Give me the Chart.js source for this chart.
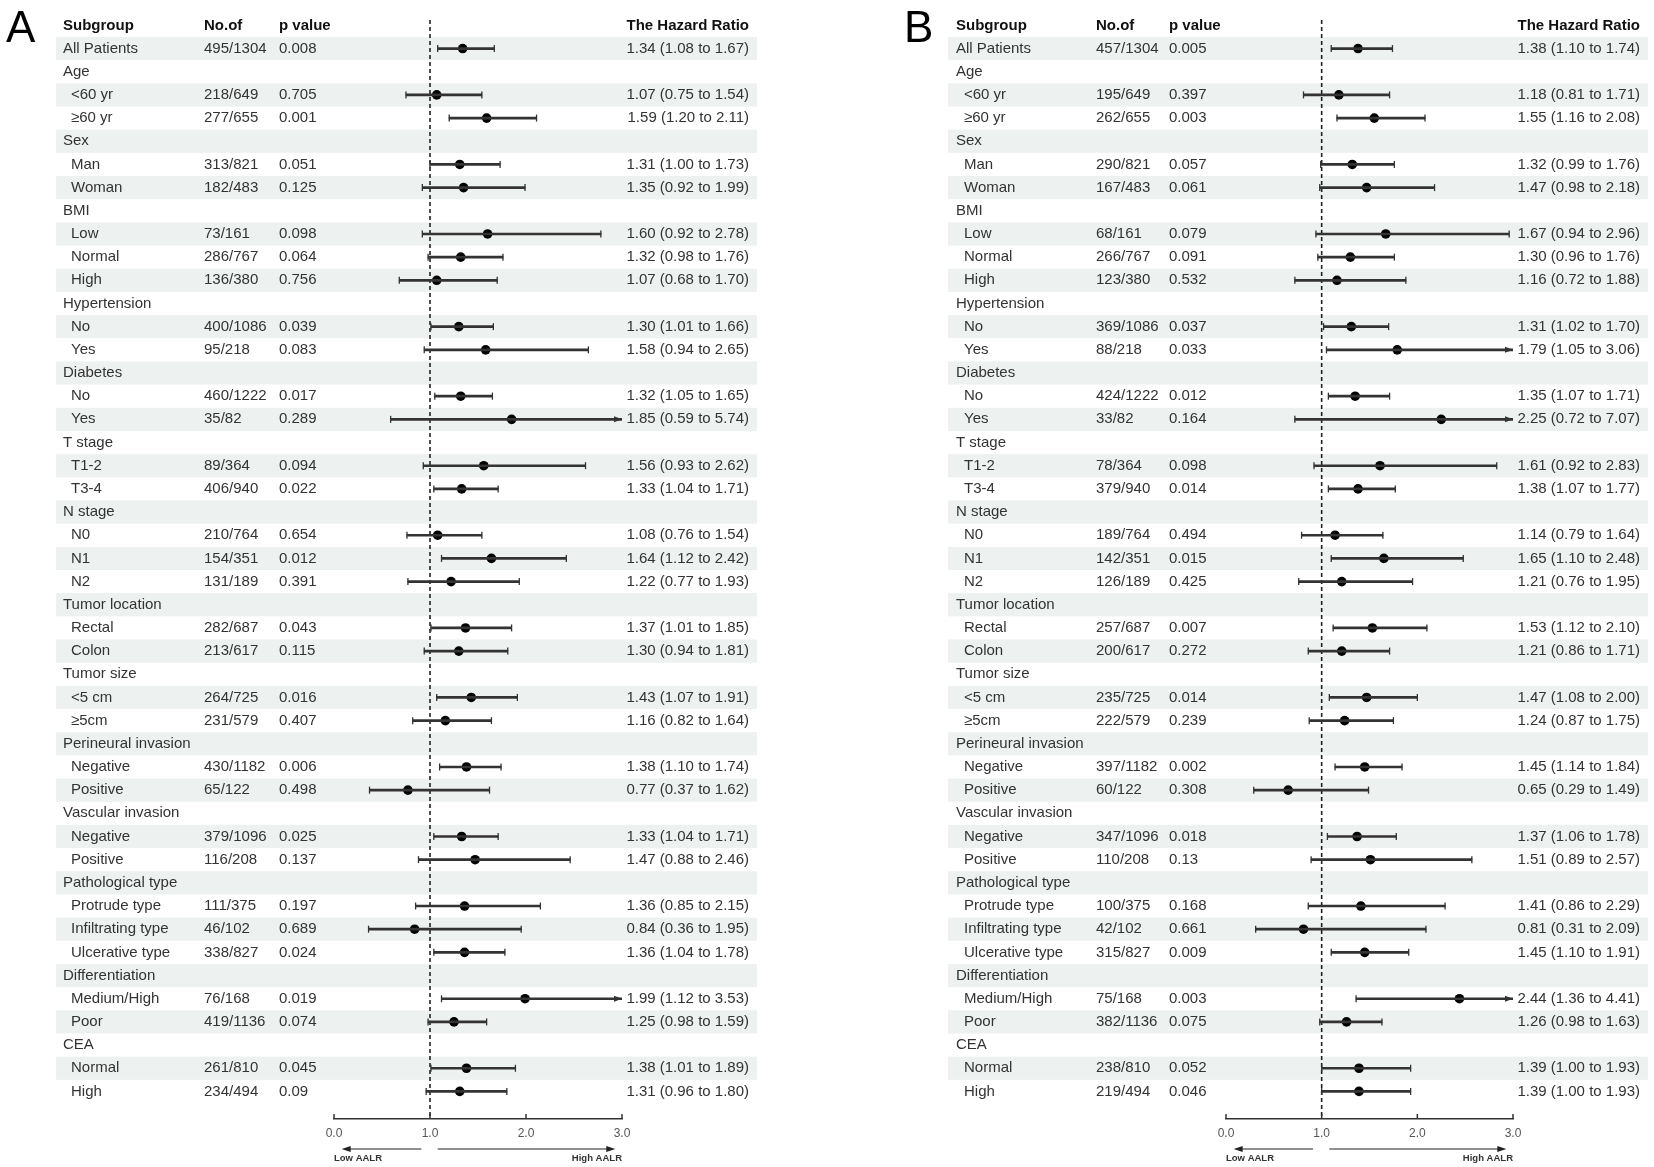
<!DOCTYPE html>
<html>
<head>
<meta charset="utf-8">
<script src="https://cdn.jsdelivr.net/npm/chart.js@4.4.0/dist/chart.umd.min.js"></script>
<style>
  body { margin: 0; background: #fff; width: 1654px; height: 1167px; overflow: hidden; position: relative; }
  .panel { position: absolute; top: 0; width: 827px; height: 1167px; }
</style>
</head>
<body>
<div class="panel" style="left:0"><canvas id="chartA"></canvas></div>
<div class="panel" style="left:827px"><canvas id="chartB"></canvas></div>
<script>
// rows of the table (group headers have no values)
const subgroups = ['All Patients', 'Age', '<60 yr', '≥60 yr', 'Sex', 'Man', 'Woman', 'BMI', 'Low', 'Normal', 'High',
    'Hypertension', 'No', 'Yes', 'Diabetes', 'No', 'Yes', 'T stage', 'T1-2', 'T3-4', 'N stage', 'N0', 'N1', 'N2',
    'Tumor location', 'Rectal', 'Colon', 'Tumor size', '<5 cm', '≥5cm', 'Perineural invasion', 'Negative', 'Positive',
    'Vascular invasion', 'Negative', 'Positive', 'Pathological type', 'Protrude type', 'Infiltrating type', 'Ulcerative type',
    'Differentiation', 'Medium/High', 'Poor', 'CEA', 'Normal', 'High'];
const headers = ['Subgroup', 'No.of', 'p value', 'The Hazard Ratio'];
const xTicks = [0, 1, 2, 3];
const refValue = 1;
const directionLabels = ['Low AALR', 'High AALR'];

// panel A
const eventsA = ['495/1304', null, '218/649', '277/655', null, '313/821', '182/483', null, '73/161', '286/767', '136/380',
    null, '400/1086', '95/218', null, '460/1222', '35/82', null, '89/364', '406/940', null, '210/764', '154/351', '131/189',
    null, '282/687', '213/617', null, '264/725', '231/579', null, '430/1182', '65/122', null, '379/1096', '116/208',
    null, '111/375', '46/102', '338/827', null, '76/168', '419/1136', null, '261/810', '234/494'];
const pValuesA = ['0.008', null, '0.705', '0.001', null, '0.051', '0.125', null, '0.098', '0.064', '0.756',
    null, '0.039', '0.083', null, '0.017', '0.289', null, '0.094', '0.022', null, '0.654', '0.012', '0.391',
    null, '0.043', '0.115', null, '0.016', '0.407', null, '0.006', '0.498', null, '0.025', '0.137',
    null, '0.197', '0.689', '0.024', null, '0.019', '0.074', null, '0.045', '0.09'];
const hrA = [1.34, null, 1.07, 1.59, null, 1.31, 1.35, null, 1.60, 1.32, 1.07, null, 1.30, 1.58, null, 1.32, 1.85,
    null, 1.56, 1.33, null, 1.08, 1.64, 1.22, null, 1.37, 1.30, null, 1.43, 1.16, null, 1.38, 0.77, null, 1.33, 1.47,
    null, 1.36, 0.84, 1.36, null, 1.99, 1.25, null, 1.38, 1.31];
const lowerA = [1.08, null, 0.75, 1.20, null, 1.00, 0.92, null, 0.92, 0.98, 0.68, null, 1.01, 0.94, null, 1.05, 0.59,
    null, 0.93, 1.04, null, 0.76, 1.12, 0.77, null, 1.01, 0.94, null, 1.07, 0.82, null, 1.10, 0.37, null, 1.04, 0.88,
    null, 0.85, 0.36, 1.04, null, 1.12, 0.98, null, 1.01, 0.96];
const upperA = [1.67, null, 1.54, 2.11, null, 1.73, 1.99, null, 2.78, 1.76, 1.70, null, 1.66, 2.65, null, 1.65, 5.74,
    null, 2.62, 1.71, null, 1.54, 2.42, 1.93, null, 1.85, 1.81, null, 1.91, 1.64, null, 1.74, 1.62, null, 1.71, 2.46,
    null, 2.15, 1.95, 1.78, null, 3.53, 1.59, null, 1.89, 1.80];

// panel B
const eventsB = ['457/1304', null, '195/649', '262/655', null, '290/821', '167/483', null, '68/161', '266/767', '123/380',
    null, '369/1086', '88/218', null, '424/1222', '33/82', null, '78/364', '379/940', null, '189/764', '142/351', '126/189',
    null, '257/687', '200/617', null, '235/725', '222/579', null, '397/1182', '60/122', null, '347/1096', '110/208',
    null, '100/375', '42/102', '315/827', null, '75/168', '382/1136', null, '238/810', '219/494'];
const pValuesB = ['0.005', null, '0.397', '0.003', null, '0.057', '0.061', null, '0.079', '0.091', '0.532',
    null, '0.037', '0.033', null, '0.012', '0.164', null, '0.098', '0.014', null, '0.494', '0.015', '0.425',
    null, '0.007', '0.272', null, '0.014', '0.239', null, '0.002', '0.308', null, '0.018', '0.13',
    null, '0.168', '0.661', '0.009', null, '0.003', '0.075', null, '0.052', '0.046'];
const hrB = [1.38, null, 1.18, 1.55, null, 1.32, 1.47, null, 1.67, 1.30, 1.16, null, 1.31, 1.79, null, 1.35, 2.25,
    null, 1.61, 1.38, null, 1.14, 1.65, 1.21, null, 1.53, 1.21, null, 1.47, 1.24, null, 1.45, 0.65, null, 1.37, 1.51,
    null, 1.41, 0.81, 1.45, null, 2.44, 1.26, null, 1.39, 1.39];
const lowerB = [1.10, null, 0.81, 1.16, null, 0.99, 0.98, null, 0.94, 0.96, 0.72, null, 1.02, 1.05, null, 1.07, 0.72,
    null, 0.92, 1.07, null, 0.79, 1.10, 0.76, null, 1.12, 0.86, null, 1.08, 0.87, null, 1.14, 0.29, null, 1.06, 0.89,
    null, 0.86, 0.31, 1.10, null, 1.36, 0.98, null, 1.00, 1.00];
const upperB = [1.74, null, 1.71, 2.08, null, 1.76, 2.18, null, 2.96, 1.76, 1.88, null, 1.70, 3.06, null, 1.71, 7.07,
    null, 2.83, 1.77, null, 1.64, 2.48, 1.95, null, 2.10, 1.71, null, 2.00, 1.75, null, 1.84, 1.49, null, 1.78, 2.57,
    null, 2.29, 2.09, 1.91, null, 4.41, 1.63, null, 1.93, 1.93];

const FONT = '"Liberation Sans", Arial, sans-serif';
const INK = '#333';
const BAND = '#edf1ef';

function forest(id, letter, events, pvals, hr, lo, hi, lay) {
    const xMax = xTicks[xTicks.length - 1];
    let ciData = [], ptData = [];
    for (let i = 0; i < subgroups.length; i++) {
        if (hr[i] === null) continue;
        ciData.push({x: [lo[i], Math.min(hi[i], xMax)], y: i});
        ptData.push({x: hr[i], y: i});
    }

    const plugin = {
        id: 'forest_' + id,
        beforeDraw(chart) {
            const ctx = chart.ctx, ys = chart.scales.y;
            ctx.save();
            ctx.fillStyle = BAND;
            for (let i = 0; i < subgroups.length; i += 2) {
                let t = ys.getPixelForValue(i - 0.5), b = ys.getPixelForValue(i + 0.5);
                ctx.fillRect(lay.bandL, t, lay.bandR - lay.bandL, b - t);
            }
            ctx.restore();
        },
        beforeDatasetsDraw(chart) {
            const ctx = chart.ctx, xs = chart.scales.x;
            let x = xs.getPixelForValue(refValue);
            ctx.save();
            ctx.strokeStyle = '#222';
            ctx.lineWidth = 1.6;
            ctx.setLineDash([4, 3]);
            ctx.beginPath();
            ctx.moveTo(x, 20);
            ctx.lineTo(x, chart.chartArea.bottom);
            ctx.stroke();
            ctx.restore();
        },
        afterDatasetsDraw(chart) {
            // whisker caps, or an arrow when the interval runs past the axis
            const ctx = chart.ctx, xs = chart.scales.x, ys = chart.scales.y;
            ctx.save();
            ctx.strokeStyle = INK;
            ctx.fillStyle = INK;
            ctx.lineWidth = 1.3;
            for (let i = 0; i < subgroups.length; i++) {
                if (hr[i] === null) continue;
                let y = ys.getPixelForValue(i);
                let ends = [lo[i]];
                if (hi[i] <= xMax) ends.push(hi[i]);
                ends.forEach(v => {
                    let x = xs.getPixelForValue(v);
                    ctx.beginPath();
                    ctx.moveTo(x, y - 3.5);
                    ctx.lineTo(x, y + 3.5);
                    ctx.stroke();
                });
                if (hi[i] > xMax) {
                    let x = xs.getPixelForValue(xMax);
                    ctx.beginPath();
                    ctx.moveTo(x, y);
                    ctx.lineTo(x - 8, y - 3);
                    ctx.lineTo(x - 8, y + 3);
                    ctx.closePath();
                    ctx.fill();
                }
            }
            ctx.restore();
        },
        afterDraw(chart) {
            const ctx = chart.ctx, xs = chart.scales.x, ys = chart.scales.y;
            ctx.save();
            // panel letter
            ctx.fillStyle = '#000';
            ctx.font = '44px ' + FONT;
            ctx.textBaseline = 'alphabetic';
            ctx.fillText(letter, lay.letterX, 42);

            // header row
            ctx.textBaseline = 'middle';
            ctx.font = 'bold 15px ' + FONT;
            ctx.fillStyle = '#111';
            let yh = ys.getPixelForValue(-1);
            ctx.textAlign = 'left';
            ctx.fillText(headers[0], lay.labelX, yh);
            ctx.fillText(headers[1], lay.nX, yh);
            ctx.fillText(headers[2], lay.pX, yh);
            ctx.textAlign = 'right';
            ctx.fillText(headers[3], lay.hrRight, yh);

            // table rows
            ctx.font = '15px ' + FONT;
            ctx.fillStyle = INK;
            for (let i = 0; i < subgroups.length; i++) {
                let y = ys.getPixelForValue(i);
                let indent = (hr[i] !== null && i > 0) ? 8 : 0;
                ctx.textAlign = 'left';
                ctx.fillText(subgroups[i], lay.labelX + indent, y);
                if (hr[i] === null) continue;
                ctx.fillText(events[i], lay.nX, y);
                ctx.fillText(pvals[i], lay.pX, y);
                ctx.textAlign = 'right';
                ctx.fillText(hr[i].toFixed(2) + ' (' + lo[i].toFixed(2) + ' to ' + hi[i].toFixed(2) + ')', lay.hrRight, y);
            }

            // small upward ticks on the axis line
            let ya = xs.top;
            ctx.strokeStyle = INK;
            ctx.lineWidth = 1.5;
            xTicks.forEach(v => {
                let x = xs.getPixelForValue(v);
                ctx.beginPath();
                ctx.moveTo(x, ya);
                ctx.lineTo(x, ya - 5);
                ctx.stroke();
            });

            // direction arrows under the axis
            let yArr = ya + 30;
            ctx.lineWidth = 1.2;
            ctx.strokeStyle = '#222';
            ctx.fillStyle = '#222';
            let l0 = xs.getPixelForValue(0.08), l1 = xs.getPixelForValue(0.91);
            let r0 = xs.getPixelForValue(1.08), r1 = xs.getPixelForValue(2.93);
            ctx.beginPath();
            ctx.moveTo(l1, yArr); ctx.lineTo(l0 + 6, yArr);
            ctx.moveTo(r0, yArr); ctx.lineTo(r1 - 6, yArr);
            ctx.stroke();
            ctx.beginPath();
            ctx.moveTo(l0, yArr); ctx.lineTo(l0 + 9, yArr - 3); ctx.lineTo(l0 + 9, yArr + 3); ctx.closePath();
            ctx.moveTo(r1, yArr); ctx.lineTo(r1 - 9, yArr - 3); ctx.lineTo(r1 - 9, yArr + 3); ctx.closePath();
            ctx.fill();
            ctx.font = 'bold 9.5px ' + FONT;
            ctx.fillStyle = '#333';
            ctx.textAlign = 'left';
            ctx.fillText(directionLabels[0], xs.getPixelForValue(0), ya + 39);
            ctx.textAlign = 'right';
            ctx.fillText(directionLabels[1], xs.getPixelForValue(xMax), ya + 39);
            ctx.restore();
        }
    };

    return new Chart(document.getElementById(id), {
        type: 'bar',
        data: {
            datasets: [
                {
                    type: 'bar',
                    indexAxis: 'y',
                    data: ciData,
                    backgroundColor: INK,
                    borderWidth: 0,
                    barThickness: 2,
                },
                {
                    type: 'scatter',
                    data: ptData,
                    pointRadius: 4.8,
                    pointBackgroundColor: '#000',
                    pointBorderWidth: 0,
                }
            ]
        },
        options: {
            responsive: true,
            maintainAspectRatio: false,
            animation: false,
            events: [],
            layout: {
                padding: {left: lay.padL, right: lay.padR, top: 13.8, bottom: 19.6}
            },
            scales: {
                x: {
                    type: 'linear',
                    position: 'bottom',
                    min: 0,
                    max: xMax,
                    offset: false,
                    grace: 0,
                    grid: {display: false, offset: false, drawTicks: false},
                    border: {display: true, color: INK, width: 1.5},
                    afterBuildTicks: (axis) => { axis.ticks = xTicks.map(v => ({value: v})); },
                    ticks: {
                        callback: (v) => Number(v).toFixed(1),
                        font: {family: FONT, size: 12},
                        color: '#555',
                        padding: 7,
                        maxRotation: 0,
                    }
                },
                y: {
                    type: 'linear',
                    reverse: true,
                    min: -1.5,
                    max: 46.19,
                    offset: false,
                    grace: 0,
                    grid: {offset: false},
                    display: false,
                }
            },
            plugins: {
                legend: {display: false},
                tooltip: {enabled: false},
            }
        },
        plugins: [plugin]
    });
}

forest('chartA', 'A', eventsA, pValuesA, hrA, lowerA, upperA,
    {bandL: 56, bandR: 757, labelX: 63, nX: 204, pX: 279, hrRight: 749, padL: 334, padR: 205, letterX: 6});
forest('chartB', 'B', eventsB, pValuesB, hrB, lowerB, upperB,
    {bandL: 121, bandR: 821, labelX: 129, nX: 269, pX: 342, hrRight: 813, padL: 399, padR: 141, letterX: 77});
</script>
</body>
</html>
